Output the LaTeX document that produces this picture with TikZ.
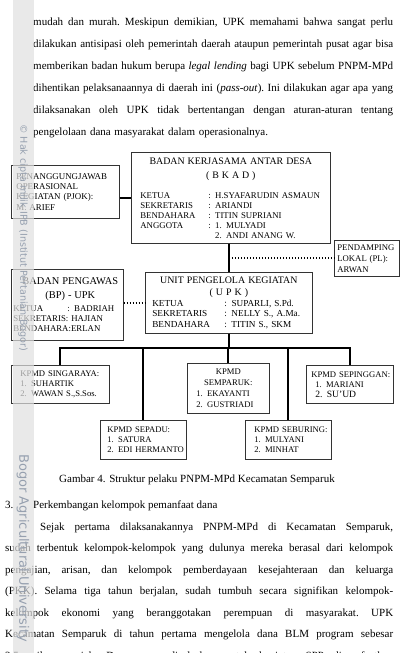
\documentclass[tikz,border=0pt]{standalone}
\usepackage{fontspec}
\setmainfont{Liberation Serif}
\newfontfamily\wmfont{DejaVu Sans}
\usetikzlibrary{positioning}
\definecolor{wmgray}{RGB}{150,160,175}
\newcommand{\ctr}[1]{\hspace*{\fill}{#1}\hspace*{\fill}\mbox{}}
\newcommand{\kv}[3]{\mbox{\makebox[#1][l]{#2}#3}}
\newcommand{\jl}[2][360pt]{\leavevmode{\frenchspacing\spaceskip=0.25em plus 0.8em minus 0.08em\hbox to #1{#2}}}
\tikzset{
  orgbox/.style={draw=black!80, line width=0.7pt, rectangle, anchor=north west, inner sep=0pt, align=left, font=\fontsize{8.8}{10}\selectfont},
  kpmd/.style={orgbox, font=\fontsize{8.6}{10}\selectfont},
  thickline/.style={line width=1.8pt},
  dotline/.style={line width=1.8pt, dash pattern=on 1.5pt off 1.5pt},
  plaintext/.style={anchor=base west, inner sep=0pt, font=\fontsize{11}{22}\selectfont},
  bodytext/.style={plaintext, align=left},
  wmark/.style={text=wmgray, inner sep=0pt, rotate=-90, anchor=west, font=\wmfont\fontsize{9.6}{10}\selectfont},
}
\begin{document}
\begin{tikzpicture}[x=1pt, y=-1pt]
\useasboundingbox (0,0) rectangle (402,653);
% texto de arriba
\node[bodytext, text width=360pt] (par1) at (33,25.5) {%
\jl{mudah dan murah. Meskipun demikian, UPK memahami bahwa sangat perlu}\\
\jl{dilakukan antisipasi oleh pemerintah daerah ataupun pemerintah pusat agar bisa}\\
\jl{memberikan badan hukum berupa \textit{legal lending} bagi UPK sebelum PNPM-MPd}\\
\jl{dihentikan pelaksanaannya di daerah ini (\textit{pass-out}). Ini dilakukan agar apa yang}\\
\jl{dilaksanakan oleh UPK tidak bertentangan dengan aturan-aturan tentang}\\
pengelolaan dana masyarakat dalam operasionalnya.};
% cajas
\node[orgbox, minimum width=108pt, minimum height=53pt, text width=98pt, font=\fontsize{8.9}{10.3}\selectfont] (pjok) at (11,165) {PENANGGUNGJAWAB\\ OPERASIONAL\\ KEGIATAN (PJOK):\\ M. ARIEF};
\node[orgbox, minimum width=199pt, minimum height=91pt, text width=181pt] (bkad) at (131,152) {%
\ctr{\fontsize{9.9}{10}\selectfont BADAN KERJASAMA ANTAR DESA}\\[4pt]
\ctr{\fontsize{9.9}{10}\selectfont ( B K A D )}\\[10pt]
\kv{68pt}{KETUA}{: H.SYAFARUDIN ASMAUN}\\
\kv{68pt}{SEKRETARIS}{: ARIANDI}\\
\kv{68pt}{BENDAHARA}{: TITIN SUPRIANI}\\
\kv{68pt}{ANGGOTA}{: 1. MULYADI}\\
\kv{68pt}{}{\phantom{: }2. ANDI ANANG W.}};
\node[orgbox, minimum width=65pt, minimum height=36pt, text width=59pt, font=\fontsize{8.7}{11}\selectfont] (pl) at (334,240) {PENDAMPING\\ LOKAL (PL):\\ ARWAN};
\node[orgbox, minimum width=112pt, minimum height=71pt, text width=108pt] (bp) at (11,269) {%
\ctr{\hspace{6pt}\fontsize{10.4}{10}\selectfont BADAN PENGAWAS}\\[4pt]
\ctr{\hspace{6pt}\fontsize{10.4}{10}\selectfont (BP) - UPK}\\[3pt]
\kv{54pt}{KETUA}{: BADRIAH}\\
SEKRETARIS: HAJIAN\\
BENDAHARA:ERLAN};
\node[orgbox, minimum width=167pt, minimum height=61pt, text width=153pt, font=\fontsize{9.2}{10.5}\selectfont] (upk) at (145,272) {%
\ctr{\fontsize{9.9}{10}\selectfont UNIT PENGELOLA KEGIATAN}\\[1.5pt]
\ctr{\fontsize{9.9}{10}\selectfont ( U P K )}\\[0.5pt]
\kv{72pt}{KETUA}{: SUPARLI, S.Pd.}\\
\kv{72pt}{SEKRETARIS}{: NELLY S., A.Ma.}\\
\kv{72pt}{BENDAHARA}{: TITIN S., SKM}};
\node[kpmd, minimum width=98pt, minimum height=38pt, text width=80pt] (singaraya) at (11,365) {KPMD SINGARAYA:\\ 1. SUHARTIK\\ \mbox{2. WAWAN S.,S.Sos.}};
\node[kpmd, minimum width=86pt, minimum height=39pt, text width=72pt] (sepadu) at (100,420) {KPMD SEPADU:\\ 1. SATURA\\ \mbox{2. EDI HERMANTO}};
\node[kpmd, minimum width=82pt, minimum height=50pt, text width=64pt, font=\fontsize{8.6}{10.8}\selectfont] (semparuk) at (187,363) {\ctr{KPMD}\\ \ctr{SEMPARUK:}\\ 1. EKAYANTI\\ 2. GUSTRIADI};
\node[kpmd, minimum width=86pt, minimum height=39pt, text width=68pt] (seburing) at (245,420) {\mbox{KPMD SEBURING:}\\ 1. MULYANI\\ 2. MINHAT};
\node[kpmd, minimum width=87pt, minimum height=38pt, text width=77pt] (sepinggan) at (306,365) {\mbox{KPMD SEPINGGAN:}\\ \hspace*{4pt}1. MARIANI\\ \hspace*{4pt}{\fontsize{9.6}{10}\selectfont 2. SU'UD}};
% lineas
\coordinate (pjlink) at (0,198);
\coordinate (busy) at (0,348);
\draw[thickline] (pjok.east |- pjlink) -- (bkad.west |- pjlink);
\draw[thickline] (bkad.south -| upk.north) -- (upk.north);
\coordinate (pljoin) at (upk.north |- pl.west);
\draw[dotline] (pljoin) -- (pl.west);
\draw[dotline] (bp.east |- upk.west) -- (upk.west);
\draw[thickline] (upk.south) -- (upk.south |- busy);
\draw[thickline] (singaraya.north) -- (singaraya.north |- busy) -- (sepinggan.north |- busy) -- (sepinggan.north);
\foreach \k in {sepadu, semparuk, seburing}
  \draw[thickline] (\k.north |- busy) -- (\k.north);
% pie y texto de abajo
\node[plaintext, anchor=base] (caption) at (197,482.5) {Gambar 4. Struktur pelaku PNPM-MPd Kecamatan Semparuk};
\node[plaintext] (num3) at (5,508.5) {3.};
\node[plaintext] (sub3) at (33,508.5) {Perkembangan kelompok pemanfaat dana};
\node[bodytext, text width=388pt, font=\fontsize{11}{21.5}\selectfont] (par2) at (5,530) {%
\jl[388pt]{\hspace*{35pt}Sejak pertama dilaksanakannya PNPM-MPd di Kecamatan Semparuk,}\\
\jl[388pt]{sudah terbentuk kelompok-kelompok yang dulunya mereka berasal dari kelompok}\\
\jl[388pt]{pengajian, arisan, dan kelompok pemberdayaan kesejahteraan dan keluarga}\\
\jl[388pt]{(PKK). Selama tiga tahun berjalan, sudah tumbuh secara signifikan kelompok-}\\
\jl[388pt]{kelompok ekonomi yang beranggotakan perempuan di masyarakat. UPK}\\
\jl[388pt]{Kecamatan Semparuk di tahun pertama mengelola dana BLM program sebesar}\\
\jl[388pt]{2,5 milyar rupiah. Dana yang disalurkan untuk kegiatan SPP dimanfaatkan}};
% marca de agua
\fill[white!88!black, opacity=0.7] (13,0) rectangle (34,653);
\node[wmark] (wmtop) at (23,124) {© Hak cipta milik IPB (Institut Pertanian Bogor)};
\node[wmark, font=\wmfont\fontsize{13}{14}\selectfont] (wmbot) at (23,454) {Bogor Agricultural University};
\end{tikzpicture}
\end{document}
